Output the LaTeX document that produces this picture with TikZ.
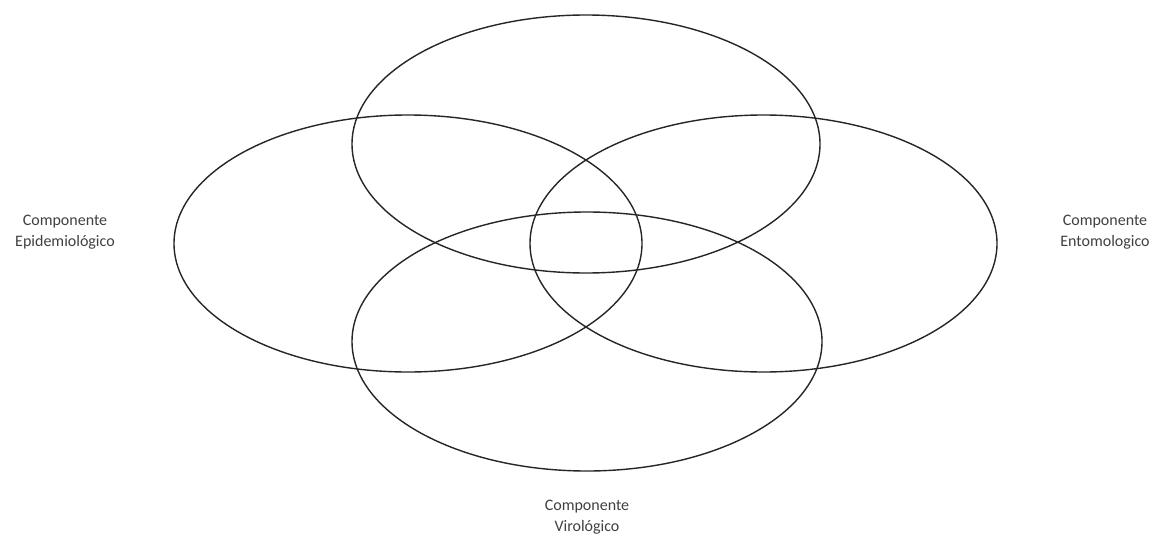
\documentclass[tikz,border=0pt]{standalone}
\usepackage{fontspec}
\setmainfont{Carlito}
\begin{document}
\begin{tikzpicture}[x=1pt,y=-1pt,
  ring/.style={draw=black!85,line width=1.4pt},
  lab/.style={align=center,font=\fontsize{16}{21}\selectfont,text=black!75,inner sep=0pt}]
\useasboundingbox[fill=white] (0,0) rectangle (1159,538);
\draw[ring] (586,144) ellipse [x radius=234,y radius=129];
\draw[ring] (408,243.5) ellipse [x radius=234,y radius=128.5];
\draw[ring] (763.5,243.5) ellipse [x radius=233.5,y radius=128.5];
\draw[ring] (587,341.5) ellipse [x radius=235,y radius=129.5];
\node[lab] (epi) at (65,232.5) {Componente\\Epidemiológico};
\node[lab] (ent) at (1105,232.5) {Componente\\Entomologico};
\node[lab] (vir) at (587,517) {Componente\\Virológico};
\end{tikzpicture}
\end{document}
